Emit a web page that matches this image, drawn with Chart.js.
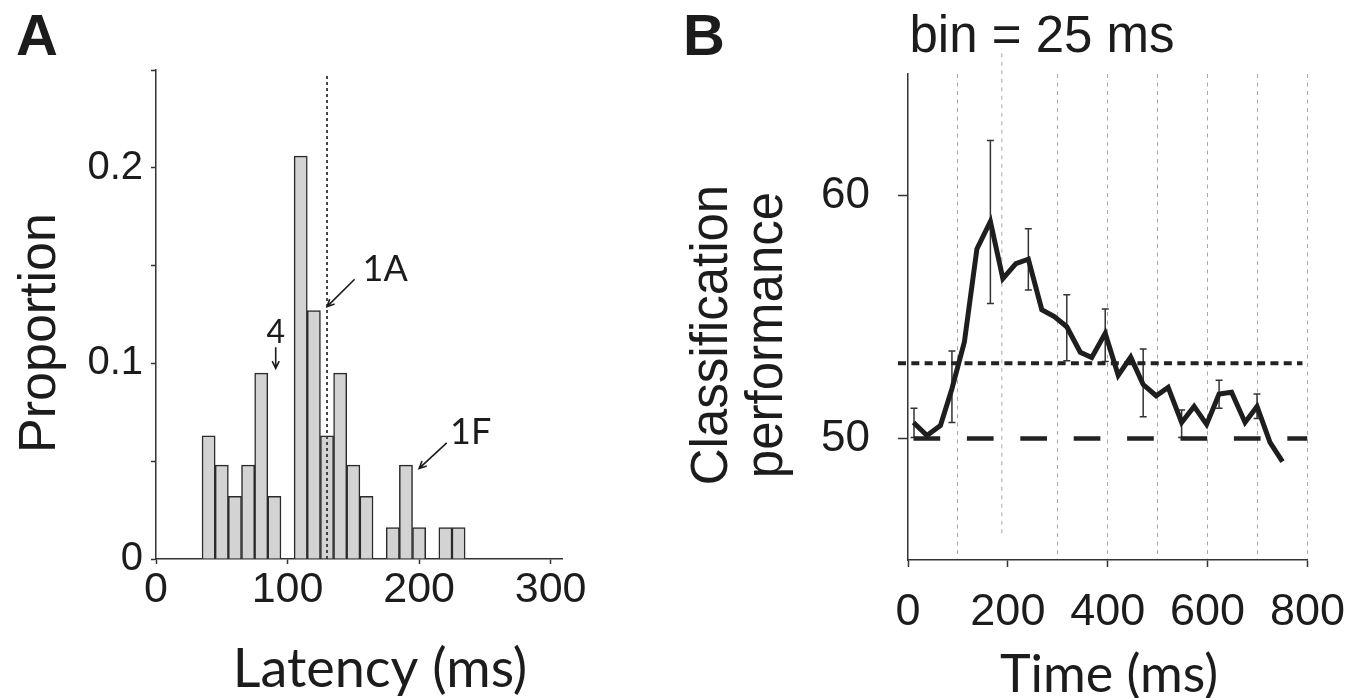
<!DOCTYPE html>
<html>
<head>
<meta charset="utf-8">
<script src="https://cdn.jsdelivr.net/npm/chart.js@4.4.0/dist/chart.umd.min.js"></script>
<style>
  html, body { margin: 0; padding: 0; background: #fff; }
  #wrap { position: relative; width: 1368px; height: 698px; overflow: hidden; }
  .panel { position: absolute; top: 0; height: 698px; }
  #panelA { left: 0; width: 640px; }
  #panelB { left: 640px; width: 728px; }
</style>
</head>
<body>
<div id="wrap">
  <div class="panel" id="panelA"><canvas id="chartA" width="640" height="698"></canvas></div>
  <div class="panel" id="panelB"><canvas id="chartB" width="728" height="698"></canvas></div>
</div>
<script>
// panel A - latency histogram, 10 ms bins (bin centres)
const latencyBins = [40, 50, 60, 70, 80, 90, 100, 110, 120, 130, 140, 150, 160, 170, 180, 190, 200, 210, 220, 230];
const proportion = [0.063, 0.048, 0.032, 0.048, 0.095, 0.032, 0, 0.206, 0.127, 0.063, 0.095, 0.048, 0.032, 0, 0.016, 0.048, 0.016, 0, 0.016, 0.016];
const latencyTicks = [0, 100, 200, 300];
const proportionTicks = [0, 0.05, 0.1, 0.15, 0.2, 0.25];
const proportionLabels = [0, 0.1, 0.2];
const medianLatency = 130;

// panel B - classification performance, 25 ms bins
const timeMs = [11, 38, 65, 88, 113, 138, 165, 190, 216, 241, 268, 293, 318, 345, 368, 395, 421, 446, 471, 497, 521, 548, 573, 598, 623, 648, 675, 699, 725, 750];
const performance = [50.66, 50.12, 50.54, 52.05, 53.98, 57.8, 58.93, 56.58, 57.2, 57.38, 55.3, 55.02, 54.6, 53.55, 53.33, 54.33, 52.6, 53.35, 52.22, 51.76, 52.1, 50.66, 51.32, 50.58, 51.83, 51.9, 50.66, 51.32, 49.84, 49.05];
const errTime = [12, 88, 165, 241, 318, 395, 471, 548, 623, 699];
const errLow = [50.04, 50.66, 55.56, 56.11, 53.2, 53.17, 50.89, 50.04, 51.25, 50.82];
const errHigh = [51.25, 53.6, 62.26, 58.63, 55.92, 55.33, 53.68, 51.17, 52.4, 51.83];
const chanceLevel = 50;
const sigLevel = 53.1;
const timeTicks = [0, 200, 400, 600, 800];
const gridTimes = [100, 300, 400, 500, 600, 700, 800];
const perfTicks = [50, 60];

const helv = '"Liberation Sans", Arial, Helvetica, sans-serif';
const myriad = 'Lato, "Open Sans", sans-serif';
const ink = '#1c1c1c';

function txt(ctx, s, x, y, font, align, rot) {
  ctx.save();
  ctx.translate(x, y);
  if (rot) ctx.rotate(rot);
  ctx.font = font;
  ctx.fillStyle = ink;
  ctx.textAlign = align || 'left';
  ctx.textBaseline = 'alphabetic';
  ctx.fillText(s, 0, 0);
  ctx.restore();
}

function arrow(ctx, x1, y1, x2, y2) {
  const a = Math.atan2(y2 - y1, x2 - x1);
  const h = 8;
  ctx.save();
  ctx.strokeStyle = ink;
  ctx.lineWidth = 1.6;
  ctx.beginPath();
  ctx.moveTo(x1, y1);
  ctx.lineTo(x2, y2);
  ctx.moveTo(x2 - h * Math.cos(a - 0.45), y2 - h * Math.sin(a - 0.45));
  ctx.lineTo(x2, y2);
  ctx.lineTo(x2 - h * Math.cos(a + 0.45), y2 - h * Math.sin(a + 0.45));
  ctx.stroke();
  ctx.restore();
}

// annotation text / arrows for panel A, in data units
const notesA = [
  { t: '1A', x: 157, y: 0.142, size: 36, align: 'left' },
  { t: '4', x: 91, y: 0.1105, size: 32, align: 'center' },
  { t: '1F', x: 223.5, y: 0.059, size: 36, align: 'left' }
];
const arrowsA = [
  [151, 0.143, 130, 0.129],
  [91, 0.1082, 91, 0.0975],
  [221, 0.0594, 200, 0.0463]
];

const textA = {
  id: 'textA',
  afterDraw(chart) {
    const ctx = chart.ctx, xs = chart.scales.x, ys = chart.scales.y;
    txt(ctx, 'A', 16, 55, 'bold 58px ' + helv, 'left');
    txt(ctx, 'Proportion', 55, 333, '52px ' + helv, 'center', -Math.PI / 2);
    txt(ctx, 'Latency (ms)', 380, 687, '54px ' + myriad, 'center');
    notesA.forEach(n => {
      txt(ctx, n.t, xs.getPixelForValue(n.x), ys.getPixelForValue(n.y), n.size + 'px ' + myriad, n.align);
    });
    arrowsA.forEach(a => {
      arrow(ctx, xs.getPixelForValue(a[0]), ys.getPixelForValue(a[1]), xs.getPixelForValue(a[2]), ys.getPixelForValue(a[3]));
    });
  }
};

const textB = {
  id: 'textB',
  beforeDatasetsDraw(chart) {
    const ctx = chart.ctx, xs = chart.scales.x, ys = chart.scales.y;
    ctx.save();
    ctx.strokeStyle = '#333';
    ctx.lineWidth = 1.5;
    errTime.forEach((t, i) => {
      const x = xs.getPixelForValue(t);
      const y1 = ys.getPixelForValue(errLow[i]);
      const y2 = ys.getPixelForValue(errHigh[i]);
      ctx.beginPath();
      ctx.moveTo(x, y1); ctx.lineTo(x, y2);
      ctx.moveTo(x - 3.5, y1); ctx.lineTo(x + 3.5, y1);
      ctx.moveTo(x - 3.5, y2); ctx.lineTo(x + 3.5, y2);
      ctx.stroke();
    });
    ctx.restore();
  },
  afterDraw(chart) {
    const ctx = chart.ctx;
    txt(ctx, 'B', 43, 55, 'bold 58px ' + helv, 'left');
    txt(ctx, 'bin = 25 ms', 402, 52, '51px ' + helv, 'center');
    txt(ctx, 'Classification', 87, 335, '51px ' + helv, 'center', -Math.PI / 2);
    txt(ctx, 'performance', 142, 335, '51px ' + helv, 'center', -Math.PI / 2);
    txt(ctx, 'Time (ms)', 469, 692, '52px ' + myriad, 'center');
  }
};

function setTicks(list) {
  return scale => { scale.ticks = list.map(v => ({ value: v })); };
}

new Chart(document.getElementById('chartA'), {
  type: 'bar',
  data: {
    datasets: [
      {
        type: 'line',
        data: [{ x: medianLatency, y: 0 }, { x: medianLatency, y: 0.2474 }],
        borderColor: '#333',
        borderWidth: 1.8,
        borderDash: [3, 3],
        pointRadius: 0,
        order: 0
      },
      {
        data: latencyBins.map((b, i) => ({ x: b, y: proportion[i] })),
        backgroundColor: '#d3d3d3',
        borderColor: '#2a2a2a',
        borderWidth: 1.5,
        barPercentage: 1,
        categoryPercentage: 1,
        order: 1
      }
    ]
  },
  options: {
    responsive: false,
    animation: false,
    devicePixelRatio: 1,
    layout: { padding: { left: 0, top: 70, right: 77.5, bottom: 0 } },
    plugins: { legend: { display: false }, tooltip: { enabled: false } },
    scales: {
      x: {
        type: 'linear',
        offset: false,
        min: 0,
        max: 309,
        afterBuildTicks: setTicks(latencyTicks),
        afterFit: s => { s.height = 139; },
        grid: { offset: false, drawOnChartArea: false, tickLength: 5, tickColor: '#333', tickWidth: 1.5 },
        border: { color: '#333', width: 1.5 },
        ticks: { color: ink, font: { family: helv, size: 43, lineHeight: 1 }, padding: 4.5, maxRotation: 0 }
      },
      y: {
        min: 0,
        max: 0.25,
        afterBuildTicks: setTicks(proportionTicks),
        afterFit: s => { s.width = 156; },
        grid: { drawOnChartArea: false, tickLength: 5, tickColor: '#333', tickWidth: 1.5 },
        border: { color: '#333', width: 1.5 },
        ticks: {
          color: ink,
          font: { family: helv, size: 40, lineHeight: 1 },
          padding: 8,
          callback: v => proportionLabels.includes(v) ? String(v) : ''
        }
      }
    }
  },
  plugins: [textA]
});

new Chart(document.getElementById('chartB'), {
  type: 'line',
  data: {
    datasets: [
      {
        data: timeMs.map((t, i) => ({ x: t, y: performance[i] })),
        borderColor: '#1e1e1e',
        borderWidth: 5,
        pointRadius: 0,
        tension: 0,
        order: 0
      },
      {
        data: [{ x: timeMs[0], y: chanceLevel }, { x: 800, y: chanceLevel }],
        borderColor: '#222',
        borderWidth: 4.5,
        borderDash: [26.7, 26.7],
        pointRadius: 0,
        order: 1
      },
      {
        data: [{ x: -20, y: sigLevel }, { x: 790, y: sigLevel }],
        borderColor: '#222',
        borderWidth: 4,
        borderDash: [8, 5.3],
        pointRadius: 0,
        clip: false,
        order: 2
      },
      {
        data: [{ x: 188, y: 46.1 }, { x: 188, y: 66.05 }],
        borderColor: '#a8a8a8',
        borderWidth: 1,
        borderDash: [4, 4.5],
        pointRadius: 0,
        clip: false,
        order: 3
      }
    ]
  },
  options: {
    responsive: false,
    animation: false,
    devicePixelRatio: 1,
    layout: { padding: { left: 0, top: 74, right: 59.7, bottom: 0 } },
    plugins: { legend: { display: false }, tooltip: { enabled: false } },
    scales: {
      x: {
        type: 'linear',
        min: 0,
        max: 800,
        afterBuildTicks: setTicks([0, 100, 200, 300, 400, 500, 600, 700, 800]),
        afterFit: s => { s.height = 138; },
        grid: {
          color: c => gridTimes.includes(c.tick.value) ? '#a8a8a8' : 'rgba(0,0,0,0)',
          lineWidth: 1,
          tickLength: 7,
          tickWidth: 1.5,
          tickColor: c => timeTicks.includes(c.tick.value) ? '#333' : 'rgba(0,0,0,0)'
        },
        border: { color: '#333', width: 1.5, dash: [4, 4.5] },
        ticks: {
          color: ink,
          font: { family: helv, size: 45, lineHeight: 1 },
          padding: 23,
          maxRotation: 0,
          autoSkip: false,
          callback: v => timeTicks.includes(v) ? String(v) : ''
        }
      },
      y: {
        min: 45,
        max: 65,
        afterBuildTicks: setTicks(perfTicks),
        afterFit: s => { s.width = 268; },
        grid: { drawOnChartArea: false, tickLength: 10, tickColor: '#333', tickWidth: 1.5 },
        border: { color: '#333', width: 1.5 },
        ticks: { color: ink, font: { family: helv, size: 44, lineHeight: 1 }, padding: 28 }
      }
    }
  },
  plugins: [textB]
});
</script>
</body>
</html>
